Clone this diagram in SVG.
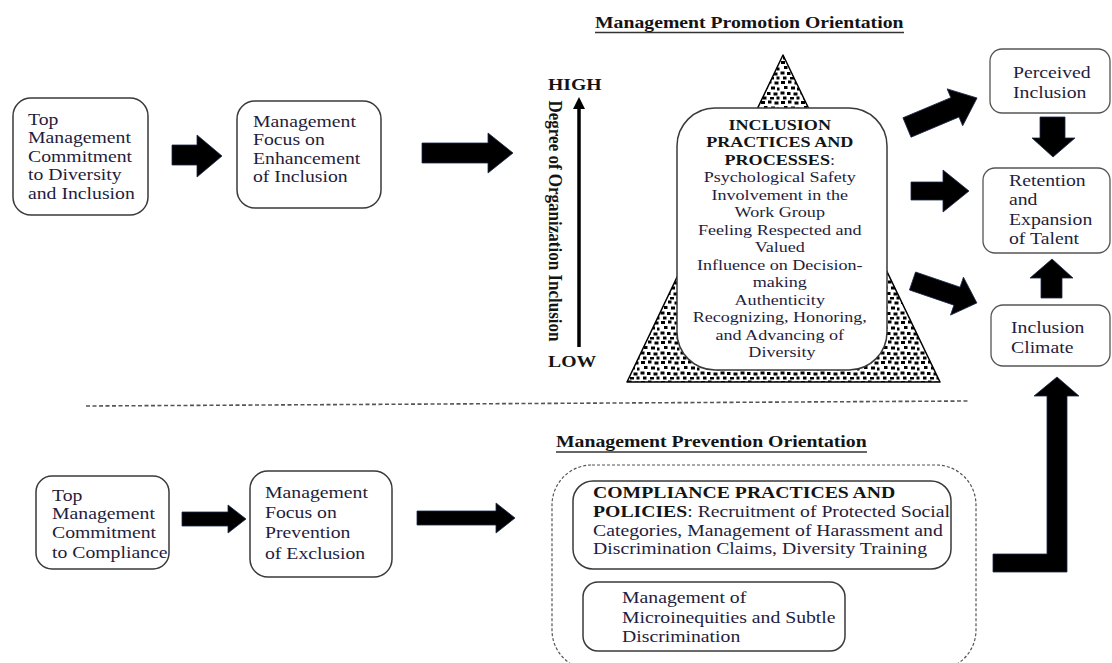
<svg xmlns="http://www.w3.org/2000/svg" width="1112" height="663" viewBox="0 0 1112 663">
  <defs>
    <style>
      .t { font-family: "Liberation Serif", "Times New Roman", serif; font-size: 17px; fill: #1f1d3d; }
      .ti { font-family: "Liberation Serif", "Times New Roman", serif; font-size: 15.6px; fill: #1f1d3d; }
      .b { font-weight: bold; fill: #141414; }
      .hd { font-family: "Liberation Serif", "Times New Roman", serif; font-size: 17px; font-weight: bold; fill: #141414; }
      .box { fill: #ffffff; stroke: #3a3a3a; stroke-width: 1.5; }
      .rbox { fill: #ffffff; stroke: #555555; stroke-width: 1.3; }
      .blk { fill: #000000; stroke: #1b2a4a; stroke-width: 0.8; stroke-linejoin: miter; }
      .ul { stroke: #333333; stroke-width: 1.4; }
    </style>
    <!-- stipple fill for the inclusion pyramid -->
    <pattern id="stipple" width="20" height="20" patternUnits="userSpaceOnUse">
      <rect width="20" height="20" fill="#ffffff"/>
      <g fill="#000000">
        <rect x="1" y="1" width="4" height="3"/>
        <rect x="8" y="0.5" width="3.5" height="3"/>
        <rect x="14.5" y="1.5" width="4" height="3"/>
        <rect x="4" y="6" width="3.5" height="3"/>
        <rect x="11" y="6.5" width="4" height="3"/>
        <rect x="17" y="7.5" width="2.5" height="3"/>
        <rect x="0.5" y="11.5" width="4" height="3"/>
        <rect x="7" y="12" width="3.5" height="3"/>
        <rect x="13.5" y="12.5" width="4" height="3"/>
        <rect x="3" y="16.5" width="3.5" height="3"/>
        <rect x="10" y="17" width="4" height="2.5"/>
        <rect x="16.5" y="16.5" width="3" height="3"/>
      </g>
    </pattern>
  </defs>

  <rect width="1112" height="663" fill="#ffffff"/>

  <!-- section headings -->
  <g id="heading-promotion">
    <text class="hd" transform="translate(595,28) scale(1.16,1)">Management Promotion Orientation</text>
    <line class="ul" x1="595" y1="32.5" x2="904" y2="32.5"/>
  </g>
  <g id="heading-prevention">
    <text class="hd" transform="translate(556,447) scale(1.16,1)">Management Prevention Orientation</text>
    <line class="ul" x1="556" y1="452" x2="867" y2="452"/>
  </g>

  <!-- divider between the two orientations -->
  <line x1="86" y1="406" x2="970" y2="401" stroke="#555555" stroke-width="1.6" stroke-dasharray="4 2.5"/>

  <!-- promotion path -->
  <g id="top-commitment-inclusion">
    <rect class="box" x="13" y="98" width="135" height="117" rx="18"/>
    <text class="t" transform="translate(28,125) scale(1.16,1)">
      <tspan x="0" y="0">Top</tspan>
      <tspan x="0" y="18.5">Management</tspan>
      <tspan x="0" y="37">Commitment</tspan>
      <tspan x="0" y="55.5">to Diversity</tspan>
      <tspan x="0" y="74">and Inclusion</tspan>
    </text>
  </g>

  <g id="focus-enhancement">
    <rect class="box" x="237" y="101" width="144" height="107" rx="18"/>
    <text class="t" transform="translate(253,127) scale(1.16,1)">
      <tspan x="0" y="0">Management</tspan>
      <tspan x="0" y="18.5">Focus on</tspan>
      <tspan x="0" y="37">Enhancement</tspan>
      <tspan x="0" y="55.5">of Inclusion</tspan>
    </text>
  </g>

  <!-- inclusion axis -->
  <g id="inclusion-axis">
    <text class="hd" transform="translate(548,90) scale(1.16,1)">HIGH</text>
    <text class="hd" transform="translate(548,367) scale(1.16,1)">LOW</text>
    <line x1="579" y1="347" x2="579" y2="106" stroke="#000000" stroke-width="3.5"/>
    <polygon points="579,97 573,109 585,109" fill="#000000"/>
    <text class="hd" text-anchor="middle" transform="translate(549,221) scale(1.16,1) rotate(90)">Degree of Organization Inclusion</text>
  </g>

  <!-- inclusion pyramid with practices -->
  <g id="inclusion-practices">
    <polygon points="783,55 940,382 627,382" fill="url(#stipple)" stroke="#000000" stroke-width="1.5" stroke-linejoin="round"/>
    <rect class="box" x="677" y="108" width="210" height="262" rx="38"/>
    <text class="ti" text-anchor="middle" transform="translate(782,130) scale(1.16,1)">
      <tspan x="0" y="0" class="b">INCLUSION</tspan>
      <tspan x="0" y="17.5" class="b">PRACTICES AND</tspan>
      <tspan x="0" y="35"><tspan class="b">PROCESSES</tspan>:</tspan>
      <tspan x="0" y="52.5">Psychological Safety</tspan>
      <tspan x="0" y="70">Involvement in the</tspan>
      <tspan x="0" y="87.5">Work Group</tspan>
      <tspan x="0" y="105">Feeling Respected and</tspan>
      <tspan x="0" y="122.5">Valued</tspan>
      <tspan x="0" y="140">Influence on Decision-</tspan>
      <tspan x="0" y="157.5">making</tspan>
      <tspan x="0" y="175">Authenticity</tspan>
      <tspan x="0" y="192.5">Recognizing, Honoring,</tspan>
      <tspan x="0" y="210">and Advancing of</tspan>
      <tspan x="0" y="227.5">Diversity</tspan>
    </text>
  </g>

  <!-- outcomes -->
  <g id="perceived-inclusion">
    <rect class="rbox" x="990" y="49" width="120" height="64" rx="12"/>
    <text class="t" transform="translate(1013,78) scale(1.16,1)">
      <tspan x="0" y="0">Perceived</tspan>
      <tspan x="0" y="20">Inclusion</tspan>
    </text>
  </g>

  <g id="retention-talent">
    <rect class="rbox" x="983" y="168" width="127" height="85" rx="12"/>
    <text class="t" transform="translate(1009,186) scale(1.16,1)">
      <tspan x="0" y="0">Retention</tspan>
      <tspan x="0" y="19.3">and</tspan>
      <tspan x="0" y="38.6">Expansion</tspan>
      <tspan x="0" y="58">of Talent</tspan>
    </text>
  </g>

  <g id="inclusion-climate">
    <rect class="rbox" x="991" y="305" width="119" height="61" rx="12"/>
    <text class="t" transform="translate(1011,333) scale(1.16,1)">
      <tspan x="0" y="0">Inclusion</tspan>
      <tspan x="0" y="20">Climate</tspan>
    </text>
  </g>

  <!-- prevention path -->
  <g id="top-commitment-compliance">
    <rect class="box" x="36" y="476" width="133" height="93" rx="16"/>
    <text class="t" transform="translate(52,501) scale(1.16,1)">
      <tspan x="0" y="0">Top</tspan>
      <tspan x="0" y="18.5">Management</tspan>
      <tspan x="0" y="37.5">Commitment</tspan>
      <tspan x="0" y="57">to Compliance</tspan>
    </text>
  </g>

  <g id="focus-prevention">
    <rect class="box" x="250" y="471" width="142" height="106" rx="18"/>
    <text class="t" transform="translate(265,498) scale(1.16,1)">
      <tspan x="0" y="0">Management</tspan>
      <tspan x="0" y="20">Focus on</tspan>
      <tspan x="0" y="40">Prevention</tspan>
      <tspan x="0" y="61">of Exclusion</tspan>
    </text>
  </g>

  <g id="compliance-group">
    <rect x="552" y="465" width="424" height="205" rx="40" fill="none" stroke="#555555" stroke-width="1.2" stroke-dasharray="3 2"/>
    <g id="compliance-practices">
      <rect class="box" x="573" y="481" width="378" height="88" rx="20"/>
      <text class="t" transform="translate(593,498) scale(1.16,1)">
        <tspan x="0" y="0" class="b">COMPLIANCE PRACTICES AND</tspan>
        <tspan x="0" y="19"><tspan class="b">POLICIES</tspan>: Recruitment of Protected Social</tspan>
        <tspan x="0" y="38">Categories, Management of Harassment and</tspan>
        <tspan x="0" y="56.5">Discrimination Claims, Diversity Training</tspan>
      </text>
    </g>
    <g id="microinequities">
      <rect class="box" x="583" y="582" width="262" height="69" rx="15"/>
      <text class="t" transform="translate(622,603) scale(1.16,1)">
        <tspan x="0" y="0">Management of</tspan>
        <tspan x="0" y="20">Microinequities and Subtle</tspan>
        <tspan x="0" y="39">Discrimination</tspan>
      </text>
    </g>
  </g>

  <!-- block arrows -->
  <g id="connectors">
    <polygon class="blk" points="172,145 197,145 197,135 222,156 197,177 197,165 172,165"/>
    <polygon class="blk" points="422,143 488,143 488,133 513,153 488,173 488,163 422,163"/>
    <polygon class="blk" points="0,-10.5 52,-10.5 52,-20 76,0 52,20 52,10.5 0,10.5" transform="translate(907,127.5) rotate(-22.85)"/>
    <polygon class="blk" points="911,182 943,182 943,170 969,191 943,212 943,200 911,200"/>
    <polygon class="blk" points="0,-9.5 47,-9.5 47,-20 68,0 47,20 47,9.5 0,9.5" transform="translate(912.5,281) rotate(18.8)"/>
    <polygon class="blk" points="1040,117 1065,117 1065,138 1075,138 1053,157 1032,138 1040,138"/>
    <polygon class="blk" points="1041,298 1041,278 1030,278 1052,259 1073,278 1062,278 1062,298"/>
    <polygon class="blk" points="182,512 228,512 228,505 246,519 228,533 228,526 182,526"/>
    <polygon class="blk" points="417,511 496,511 496,503 515,518 496,533 496,525 417,525"/>
    <polygon class="blk" points="993,554 1047,554 1047,396 1034,396 1057,377 1079,396 1067,396 1067,572 993,572"/>
  </g>
</svg>
